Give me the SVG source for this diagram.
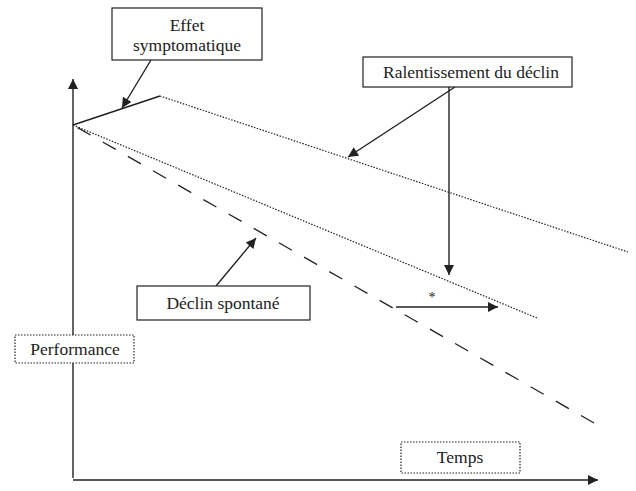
<svg xmlns="http://www.w3.org/2000/svg" width="636" height="491" viewBox="0 0 636 491">
<style>
.t{font-family:"Liberation Serif","Times New Roman",serif;font-size:17.5px;fill:#222;text-anchor:middle}
.box{fill:#fff;stroke:#222;stroke-width:1.2}
.dbox{fill:#fff;stroke:#222;stroke-width:1.2;stroke-dasharray:1.5 1.5}
.ln{stroke:#222;stroke-width:1.4;fill:none}
.dot{stroke:#222;stroke-width:1.2;fill:none;stroke-dasharray:1.5 1.5}
.dash{stroke:#222;stroke-width:1.3;fill:none;stroke-dasharray:15 14}
</style>
<defs>
<marker id="ah" viewBox="0 0 10 10" refX="10" refY="5" markerWidth="14" markerHeight="10" markerUnits="userSpaceOnUse" orient="auto">
<path d="M0,0 L10,5 L0,10 z" fill="#222"/>
</marker>
</defs>
<g id="connectors">
<line class="ln" x1="73" y1="478" x2="73" y2="79" marker-end="url(#ah)"/>
<line class="ln" x1="73" y1="480" x2="598" y2="480" marker-end="url(#ah)"/>
<line class="ln" x1="73" y1="125" x2="160" y2="96"/>
<line class="dot" x1="160" y1="96" x2="628" y2="252"/>
<line class="dot" x1="73" y1="125" x2="537" y2="318"/>
<line class="dash" x1="594" y1="423" x2="73" y2="125"/>
<line class="ln" x1="151" y1="60" x2="122" y2="108" marker-end="url(#ah)"/>
<line class="ln" x1="455" y1="87" x2="348" y2="157" marker-end="url(#ah)"/>
<line class="ln" x1="449" y1="87" x2="449" y2="275" marker-end="url(#ah)"/>
<line class="ln" x1="216" y1="286" x2="256" y2="238" marker-end="url(#ah)"/>
<line class="ln" x1="396" y1="307" x2="498" y2="307" marker-end="url(#ah)"/>
</g>
<g id="effet">
<rect class="box" x="112" y="8" width="150" height="52"/>
<text class="t" x="187" y="31">Effet</text>
<text class="t" x="187" y="51">symptomatique</text>
</g>
<g id="ralentissement">
<rect class="box" x="363" y="57" width="209" height="30"/>
<text class="t" x="471" y="78">Ralentissement du déclin</text>
</g>
<g id="declin">
<rect class="box" x="137" y="286" width="173" height="34"/>
<text class="t" x="223" y="309">Déclin spontané</text>
</g>
<g id="star">
<text class="t" x="432" y="302" style="font-size:14px">*</text>
</g>
<g id="performance">
<rect class="dbox" x="15" y="335" width="119" height="28"/>
<text class="t" x="75" y="355">Performance</text>
</g>
<g id="temps">
<rect class="dbox" x="401" y="442" width="119" height="31"/>
<text class="t" x="460" y="463">Temps</text>
</g>
</svg>
